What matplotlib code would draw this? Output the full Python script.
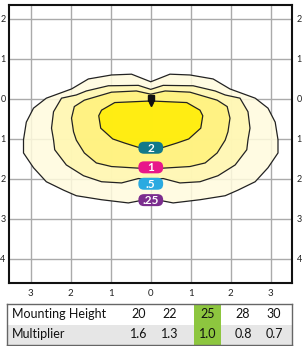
import numpy as np
import matplotlib.pyplot as plt
from matplotlib.patches import Polygon, FancyBboxPatch, Rectangle

plt.rcParams['font.family'] = ['Lato', 'DejaVu Sans']

# iso-footcandle lines, right half only (units = mounting heights), mirrored for left half
c025_x = [0, 0.48, 0.98, 1.56, 1.98, 2.61, 2.93, 3.11, 3.18, 3.18, 2.93, 2.61, 2.18, 1.86, 1.23, 0.56, 0.3, 0]
c025_y = [0.43, 0.62, 0.6, 0.5, 0.25, 0.02, -0.23, -0.58, -1.02, -1.35, -1.72, -2.07, -2.28, -2.42, -2.52, -2.6, -2.55, -2.53]
c05_x = [0, 0.31, 1.06, 1.61, 1.86, 2.23, 2.43, 2.48, 2.43, 2.4, 2.11, 1.68, 1.23, 0.73, 0.31, 0]
c05_y = [0.24, 0.34, 0.33, 0.2, 0.1, 0.02, -0.32, -0.73, -1.02, -1.27, -1.65, -1.92, -2.07, -2.1, -1.99, -2.02]
c1_x = [0, 0.36, 0.98, 1.66, 1.91, 1.98, 1.93, 1.86, 1.66, 1.36, 0.98, 0.31, 0]
c1_y = [0.12, 0.2, 0.17, -0.03, -0.19, -0.48, -0.82, -1.03, -1.35, -1.6, -1.69, -1.73, -1.73]
c2_x = [0, 0.9, 1.23, 1.3, 1.25, 0.95, 0.66, 0.31, 0]
c2_y = [-0.05, -0.09, -0.28, -0.42, -0.73, -1.0, -1.1, -1.21, -1.23]

fc_labels = ['.25', '.5', '1', '2']
fc_label_y = [-2.53, -2.12, -1.71, -1.22]
fc_fill = ['#FFFBDD', '#FFF7B0', '#FFF27A', '#FFED00']
fc_tag = ['#7B2D8E', '#2AAAE1', '#E8178A', '#12798A']

x_ticks = [-3, -2, -1, 0, 1, 2, 3]
y_ticks = [-4, -3, -2, -1, 0, 1, 2]

heights = [20, 22, 25, 28, 30]
multipliers = ['1.6', '1.3', '1.0', '0.8', '0.7']
current = 2  # 25 ft is the reference height


def full_shape(hx, hy):
    xs = list(hx) + [-v for v in hx[::-1][1:-1]]
    ys = list(hy) + list(hy[::-1][1:-1])
    return np.column_stack([xs, ys])


W, H = 302, 346
fig = plt.figure(figsize=(W / 100, H / 100), dpi=100)
ax = fig.add_axes([9.3 / W, (H - 283.3) / H, (292 - 9.3) / W, (283.3 - 5) / H])
ax.set_xlim(-3.535, 3.53)
ax.set_ylim(-4.61, 2.35)

for v in x_ticks:
    ax.axvline(v, color='#AAAAAA', lw=1.0, zorder=1)
for v in y_ticks:
    ax.axhline(v, color='#AAAAAA', lw=1.0, zorder=1)

shapes = [(c025_x, c025_y), (c05_x, c05_y), (c1_x, c1_y), (c2_x, c2_y)]
for i, (hx, hy) in enumerate(shapes):
    pts = full_shape(hx, hy)
    ax.add_patch(Polygon(pts, closed=True, fc=fc_fill[i], ec='none', alpha=0.85, zorder=2 + i))
    ax.add_patch(Polygon(pts, closed=True, fc='none', ec='#222222', lw=0.9, zorder=7))

# luminaire
ax.plot([0], [0.02], marker='s', ms=4.5, color='#111111', zorder=9)
ax.plot([0], [-0.12], marker='v', ms=3, color='#111111', zorder=9)

for lab, ly, col in zip(fc_labels, fc_label_y, fc_tag):
    ax.add_patch(FancyBboxPatch((-0.26, ly - 0.1), 0.52, 0.2,
                                boxstyle='round,pad=0.05,rounding_size=0.14',
                                fc=col, ec='none', zorder=10))
    ax.text(0, ly - 0.01, lab, color='white', fontsize=8.5, fontweight='bold',
            ha='center', va='center', zorder=11)

ax.set_xticks([])
ax.set_yticks([])
for s in ax.spines.values():
    s.set_linewidth(1.5)
    s.set_color('#111111')
    s.set_zorder(12)

# tick labels (absolute distances)
for v in x_ticks:
    xp = 150.7 + 40 * v
    fig.text(xp / W, 1 - 293 / H, str(abs(v)), fontsize=7, color='#222222', ha='center', va='center')
for v in y_ticks:
    yp = 99 - 40 * v
    fig.text(0.3 / W, 1 - yp / H, str(abs(v)), fontsize=6.5, color='#222222', ha='left', va='center')
    fig.text(301.7 / W, 1 - yp / H, str(abs(v)), fontsize=6.5, color='#222222', ha='right', va='center')

# mounting height table
tab = fig.add_axes([7.3 / W, (H - 345) / H, (292 - 7.3) / W, (345 - 304) / H])
tab.set_xlim(7.3, 292)
tab.set_ylim(345, 304)
tab.add_patch(Rectangle((7.3, 324.5), 284.7, 20.5, fc='#E6E6E6', ec='none'))
col_x = [139, 170, 207.3, 243, 274]
tab.add_patch(Rectangle((194, 304), 26.7, 41, fc='#8DC63F', ec='none'))
tab.text(12, 314.5, 'Mounting Height', fontsize=9, color='#111111', va='center', ha='left')
tab.text(12, 334.5, 'Multiplier', fontsize=9, color='#111111', va='center', ha='left')
for cx, h, m in zip(col_x, heights, multipliers):
    tab.text(cx, 314.5, str(h), fontsize=9, color='#111111', va='center', ha='center')
    tab.text(cx, 334.5, m, fontsize=9, color='#111111', va='center', ha='center')
tab.set_xticks([])
tab.set_yticks([])
for s in tab.spines.values():
    s.set_linewidth(1.0)
    s.set_color('#666666')

fig.savefig('out.png', dpi=100)
